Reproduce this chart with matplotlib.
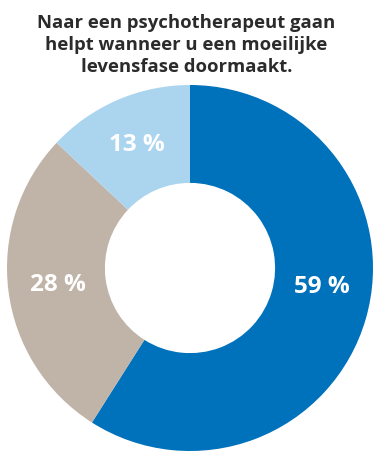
import numpy as np
import matplotlib
matplotlib.use('Agg')
from matplotlib import pyplot as plt

title = "Naar een psychotherapeut gaan\nhelpt wanneer u een moeilijke\nlevensfase doormaakt."
labels = ['Eens', 'Neutraal', 'Oneens']
values = [59, 28, 13]
colors = ['#0072BB', '#C0B4A8', '#ABD5EF']

plt.rcParams['font.family'] = ['Open Sans', 'DejaVu Sans']

W, H = 373, 451
fig = plt.figure(figsize=(W / 100, H / 100), dpi=100)

# donut centre (190, 268) px from top-left, outer radius 183 px
cx, cy, R = 190, 268, 183
ax = fig.add_axes([(cx - R) / W, (H - cy - R) / H, 2 * R / W, 2 * R / H])
wedges, texts, autotexts = ax.pie(
    values, colors=colors, startangle=90, counterclock=False,
    radius=1, wedgeprops=dict(width=0.535, linewidth=0),
    autopct=lambda p: f'{p:.0f} %', pctdistance=0.73,
    textprops=dict(color='white', fontsize=17.5, fontweight='bold'))
ax.set_xlim(-1, 1)
ax.set_ylim(-1, 1)
ax.set_aspect('auto')
ax.axis('off')

# the big label sits a bit higher than the wedge middle
a = np.deg2rad(-8)
autotexts[0].set_position((0.73 * np.cos(a), 0.73 * np.sin(a)))

fig.text(0.5, 1 - 45 / H, title, ha='center', va='center', fontsize=13.3,
         fontweight='bold', color='#2B2B2B', linespacing=1.3)

fig.savefig('out.png', dpi=100)
